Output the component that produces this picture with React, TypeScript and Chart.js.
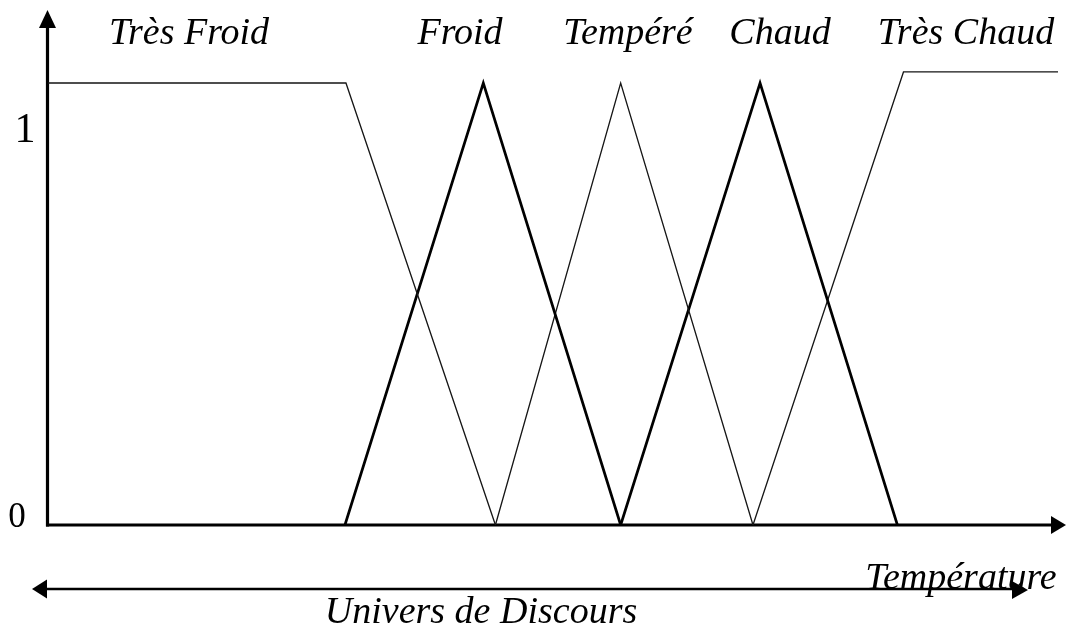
import React, { useEffect, useRef } from "react";
import { Chart, registerables } from "chart.js";

Chart.register(...registerables);

// Membership functions (temperature universe 0..100, membership 0..1)
const setNames = ["Très Froid", "Froid", "Tempéré", "Chaud", "Très Chaud"];
const tresFroidX = [0, 29.5, 44.3];
const tresFroidY = [1, 1, 0];
const froidX = [29.4, 43.1, 56.7];
const froidY = [0, 1, 0];
const tempereX = [44.3, 56.7, 69.8];
const tempereY = [0, 1, 0];
const chaudX = [56.7, 70.5, 84.1];
const chaudY = [0, 1, 0];
const tresChaudX = [69.8, 84.7, 100];
const tresChaudY = [0, 1.025, 1.025];
const yTickLabels = ["0", "1"];
const xAxisTitle = "Température";
const universeLabel = "Univers de Discours";

const pts = (xs: number[], ys: number[]) => xs.map((x, i) => ({ x, y: ys[i] }));

const FONT_IT = "italic 38px 'Liberation Serif', serif";

function arrowHead(
  ctx: CanvasRenderingContext2D,
  tipX: number,
  tipY: number,
  dir: "up" | "right" | "left",
  len: number,
  half: number
) {
  ctx.beginPath();
  if (dir === "up") {
    ctx.moveTo(tipX, tipY);
    ctx.lineTo(tipX - half, tipY + len);
    ctx.lineTo(tipX + half, tipY + len);
  } else if (dir === "right") {
    ctx.moveTo(tipX, tipY);
    ctx.lineTo(tipX - len, tipY - half);
    ctx.lineTo(tipX - len, tipY + half);
  } else {
    ctx.moveTo(tipX, tipY);
    ctx.lineTo(tipX + len, tipY - half);
    ctx.lineTo(tipX + len, tipY + half);
  }
  ctx.closePath();
  ctx.fill();
}

const decorPlugin = {
  id: "fuzzyDecor",
  beforeDatasetsDraw(chart: any) {
    const ctx: CanvasRenderingContext2D = chart.ctx;
    const xs = chart.scales.x;
    const ys = chart.scales.y;
    const x0 = xs.getPixelForValue(0);
    const y0 = ys.getPixelForValue(0);
    ctx.save();
    ctx.strokeStyle = "#000";
    ctx.fillStyle = "#000";
    ctx.lineWidth = 3.2;
    // y axis
    ctx.beginPath();
    ctx.moveTo(x0 - 0.5, y0 + 1.5);
    ctx.lineTo(x0 - 0.5, 24);
    ctx.stroke();
    arrowHead(ctx, x0 - 0.5, 10, "up", 18, 8.5);
    // x axis
    ctx.beginPath();
    ctx.moveTo(x0 - 2, y0);
    ctx.lineTo(1054, y0);
    ctx.stroke();
    arrowHead(ctx, 1066, y0, "right", 15, 9);
    // universe double arrow
    ctx.lineWidth = 2.6;
    ctx.beginPath();
    ctx.moveTo(44, 589);
    ctx.lineTo(1016, 589);
    ctx.stroke();
    arrowHead(ctx, 32, 589, "left", 15, 9.5);
    arrowHead(ctx, 1028, 590, "right", 16, 9);
    ctx.restore();
  },
  afterDraw(chart: any) {
    const ctx: CanvasRenderingContext2D = chart.ctx;
    ctx.save();
    ctx.fillStyle = "#000";
    ctx.textBaseline = "alphabetic";
    ctx.textAlign = "center";
    ctx.font = FONT_IT;
    const centers = [189, 460, 628, 780, 966];
    setNames.forEach((n, i) => ctx.fillText(n, centers[i], 44));
    ctx.fillText(xAxisTitle, 961, 589);
    ctx.fillText(universeLabel, 481, 623);
    ctx.font = "42px 'Liberation Serif', serif";
    ctx.fillText(yTickLabels[1], 25, 142);
    ctx.font = "35px 'Liberation Serif', serif";
    ctx.fillText(yTickLabels[0], 17, 527);
    ctx.restore();
  },
};

export default function App() {
  const ref = useRef<HTMLCanvasElement | null>(null);
  useEffect(() => {
    if (!ref.current) return;
    const thin = { borderColor: "#151515", borderWidth: 1.3 };
    const thick = { borderColor: "#000", borderWidth: 2.7 };
    const chart = new Chart(ref.current, {
      type: "scatter",
      data: {
        datasets: [
          { label: setNames[0], data: pts(tresFroidX, tresFroidY), ...thin },
          { label: setNames[1], data: pts(froidX, froidY), ...thick },
          { label: setNames[2], data: pts(tempereX, tempereY), ...thin },
          { label: setNames[3], data: pts(chaudX, chaudY), ...thick },
          { label: setNames[4], data: pts(tresChaudX, tresChaudY), ...thin },
        ].map((d) => ({ ...d, showLine: true, pointRadius: 0, fill: false, tension: 0 })) as any,
      },
      options: {
        animation: false,
        responsive: false,
        layout: { padding: 0 },
        plugins: { legend: { display: false }, tooltip: { enabled: false }, title: { display: false } },
        scales: {
          x: { type: "linear", min: -4.752, max: 100.891, display: false },
          y: { type: "linear", min: -0.2376, max: 1.1878, display: false },
        },
      },
      plugins: [decorPlugin],
    });
    return () => chart.destroy();
  }, []);
  return (
    <div style={{ position: "absolute", left: 0, top: 0, width: 1067, height: 630, background: "#fff" }}>
      <canvas ref={ref} width={1067} height={630} style={{ display: "block" }} />
    </div>
  );
}
